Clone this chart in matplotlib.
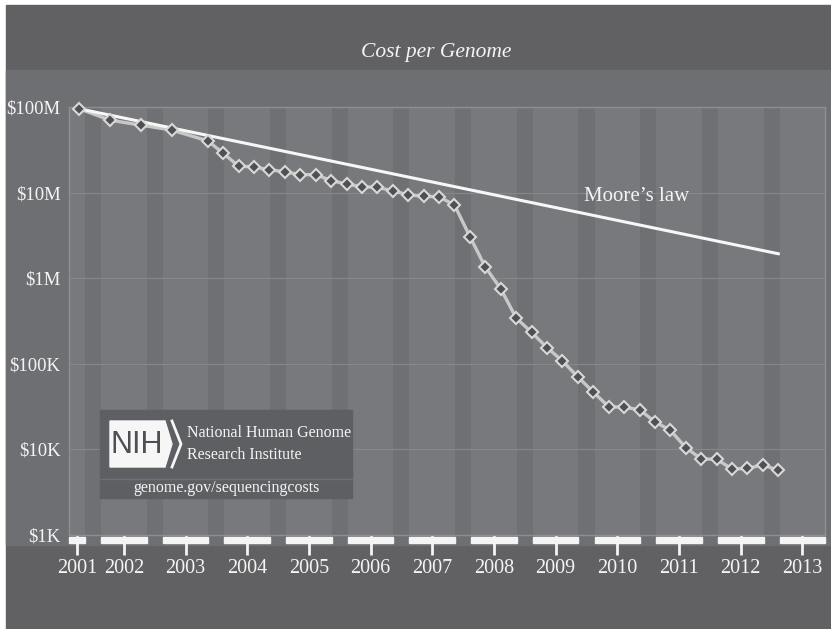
import matplotlib
matplotlib.use("Agg")
import matplotlib.pyplot as plt
import matplotlib.transforms as mtransforms
from matplotlib.patches import Rectangle, Polygon
import numpy as np

plt.rcParams['font.family'] = ['Liberation Serif', 'DejaVu Serif']

# Cost per genome (USD)
dates = ["2001-09", "2002-03", "2002-09", "2003-03", "2003-10",
         "2004-01", "2004-04", "2004-07", "2004-10",
         "2005-01", "2005-04", "2005-07", "2005-10",
         "2006-01", "2006-04", "2006-07", "2006-10",
         "2007-01", "2007-04", "2007-07", "2007-10",
         "2008-01", "2008-04", "2008-07", "2008-10",
         "2009-01", "2009-04", "2009-07", "2009-10",
         "2010-01", "2010-04", "2010-07", "2010-10",
         "2011-01", "2011-04", "2011-07", "2011-10",
         "2012-01", "2012-04", "2012-07", "2012-10",
         "2013-01"]
cost = [95.3e6, 70.2e6, 61.4e6, 53.8e6, 40.2e6,
        28.8e6, 20.4e6, 19.9e6, 18.5e6,
        17.5e6, 16.2e6, 16.2e6, 13.8e6,
        12.6e6, 11.7e6, 11.5e6, 10.5e6,
        9.41e6, 9.05e6, 8.93e6, 7.15e6,
        3.06e6, 1.35e6, 752e3, 343e3,
        233e3, 155e3, 108e3, 70.3e3,
        46.8e3, 31.5e3, 31.1e3, 29.1e3,
        21.0e3, 16.7e3, 10.5e3, 7.74e3,
        7.67e3, 5.90e3, 5.99e3, 6.62e3,
        5.67e3]

# Moore's law reference line (start / end)
moore_dates = ["2001-09", "2013-01"]
moore_cost = [95.3e6, 1.93e6]

years = list(range(2001, 2014))
ytick_vals = [1e3, 1e4, 1e5, 1e6, 1e7, 1e8]
ytick_labels = ["$1K", "$10K", "$100K", "$1M", "$10M", "$100M"]


def to_dec(s):
    y, m = s.split("-")
    return int(y) + (int(m) - 1) / 12.0


x = np.array([to_dec(d) for d in dates])
mx = [to_dec(d) for d in moore_dates]

W, H = 831, 629
fig = plt.figure(figsize=(W / 100, H / 100), dpi=100, facecolor="white")

# background panels (pixel coordinates)
bg = fig.add_axes([0, 0, 1, 1], zorder=0)
bg.set_xlim(0, W)
bg.set_ylim(H, 0)
bg.axis("off")
bg.add_patch(Rectangle((6, 5), W, H, color="#616163"))
bg.add_patch(Rectangle((6, 70), W, 475, color="#6e6f73"))

# main axes
x0, x1 = 2001.5, 2013.757
ax = fig.add_axes([69 / W, 1 - 535 / H, 756 / W, 428 / H], zorder=1)
ax.set_facecolor("#6f7074")
ax.set_xlim(x0, x1)
ax.set_yscale("log")
ax.set_ylim(1e3, 1e8)

# year bands
tick_pos = []
blend = mtransforms.blended_transform_factory(ax.transData, ax.transAxes)
for yr in years:
    a = max(yr + 0.02, x0)
    b = min(yr + 0.76, x1)
    ax.axvspan(a, b, color="#78797d", lw=0, zorder=0)
    tick_pos.append((a + b) / 2)
    ax.add_patch(Rectangle((a, -0.019), b - a, 0.014, transform=blend,
                           color="#f4f4f4", clip_on=False, zorder=5))

ax.set_yticks(ytick_vals)
ax.set_yticklabels(ytick_labels)
ax.yaxis.set_minor_locator(matplotlib.ticker.NullLocator())
ax.set_xticks(tick_pos)
ax.set_xticklabels([str(y) for y in years])
ax.tick_params(axis="y", length=0, pad=6, labelsize=13.5, labelcolor="#f4f4f4")
ax.tick_params(axis="x", length=14.4, width=2, color="#f4f4f4", pad=3,
               labelsize=14.5, labelcolor="#f4f4f4")
ax.yaxis.grid(True, color="#87888c", lw=0.8, zorder=1)
ax.set_axisbelow(True)
for s in ax.spines.values():
    s.set_color("#8e8f93")
    s.set_linewidth(1)

# data
ax.plot(x, cost, color="#c8c8c8", lw=2.4, zorder=3, clip_on=False)
ax.plot(mx, moore_cost, color="#f7f7f7", lw=2.2, zorder=4, clip_on=False)
ax.plot(x, cost, ls="none", marker="D", ms=6.5, mfc="#505053", mec="#d8d8d8",
        mew=1.5, zorder=5, clip_on=False)

ax.text(2010.71, 8.9e6, "Moore\u2019s law", color="#f4f4f4", fontsize=15,
        ha="center", va="center")

# title
fig.text(436 / W, 1 - 53 / H, "Cost per Genome", color="#f4f4f4",
         fontsize=15.5, style="italic", ha="center", va="center")

# NIH box overlay
ov = fig.add_axes([0, 0, 1, 1], zorder=6)
ov.set_xlim(0, W)
ov.set_ylim(H, 0)
ov.axis("off")
ov.patch.set_alpha(0)
ov.add_patch(Rectangle((100, 410), 252, 88, color="#5e5f63"))
ov.plot([100, 352], [479, 479], color="#6f7074", lw=1)
ov.add_patch(Polygon([(110, 421), (165, 421), (172, 444), (165, 467), (110, 467)],
                     closed=True, color="#f6f6f6"))
ov.plot([172, 181, 172], [421, 444, 467], color="#f6f6f6", lw=2)
ov.text(137, 445, "NIH", family="Liberation Sans", fontsize=22,
        color="#4e4f53", ha="center", va="center")
ov.text(187, 433, "National Human Genome", fontsize=11.5, color="#f4f4f4",
        ha="left", va="center")
ov.text(187, 455, "Research Institute", fontsize=11.5, color="#f4f4f4",
        ha="left", va="center")
ov.text(227, 488, "genome.gov/sequencingcosts", fontsize=11.5, color="#f4f4f4",
        ha="center", va="center")

fig.savefig("out.png", dpi=100, facecolor=fig.get_facecolor())
